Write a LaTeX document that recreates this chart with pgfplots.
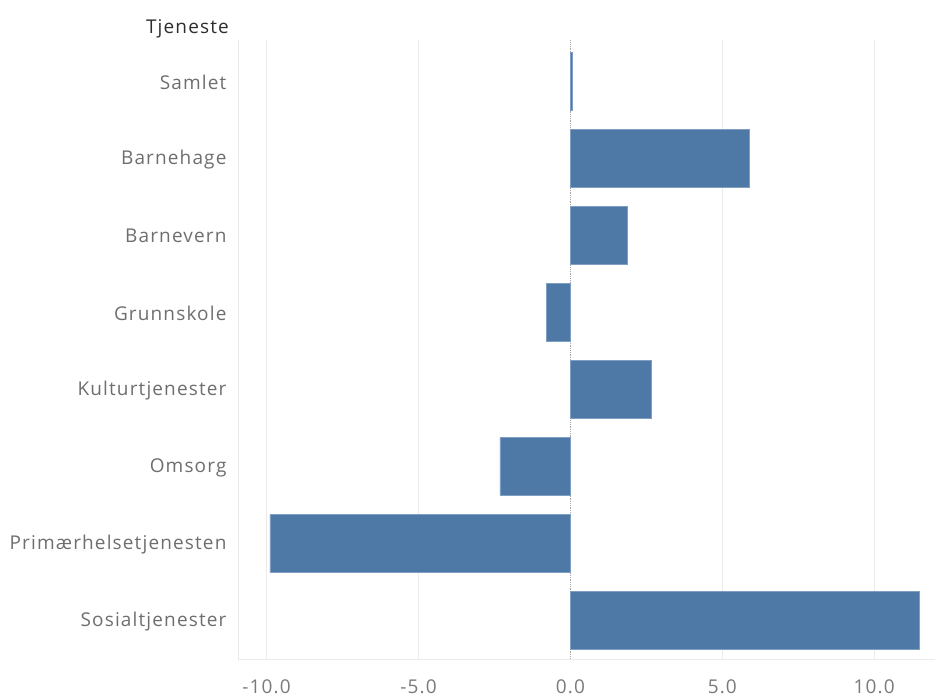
\documentclass[border=0pt]{standalone}
\usepackage{pgfplots}
\pgfplotsset{compat=1.18}
\usepackage{fontspec}
\setmainfont{Open Sans}[LetterSpace=6]

\definecolor{barblue}{HTML}{4E79A7}
\definecolor{bardraw}{HTML}{7F9FC2}
\definecolor{gridgray}{HTML}{EBEBEB}
\definecolor{labelgray}{HTML}{6E6E6E}
\definecolor{tickgray}{HTML}{7A7A7A}
\definecolor{headgray}{HTML}{2E2E2E}

\begin{document}
\begin{tikzpicture}[x=1pt,y=1pt]
\useasboundingbox (0,0) rectangle (939,696);
\begin{axis}[
  at={(238pt,37pt)}, anchor=south west,
  scale only axis,
  width=697pt, height=618.6pt,
  xbar, bar width=0.75,
  xmin=-10.94, xmax=12.0,
  ymin=-0.53, ymax=7.5,
  y dir=reverse,
  ytick={0,...,7},
  yticklabels={Samlet,Barnehage,Barnevern,Grunnskole,Kulturtjenester,Omsorg,Primærhelsetjenesten,Sosialtjenester},
  xtick={-10,-5,5,10},
  extra x ticks={0},
  extra x tick style={grid style={densely dotted, gray!70, line width=0.8pt}},
  xmajorgrids,
  grid style={gridgray, line width=0.8pt},
  axis x line*=bottom, axis y line*=left,
  axis line style={gridgray, line width=0.8pt, -},
  major tick length=0pt,
  tick style={draw=none},
  /pgf/number format/.cd, fixed, fixed zerofill, precision=1, assume math mode=true,
  /pgfplots/.cd,
  xticklabel style={font=\fontsize{19}{21}\selectfont, text=tickgray, anchor=base, yshift=-34pt},
  yticklabel style={font=\fontsize{19}{21}\selectfont, text=labelgray, anchor=east, xshift=-8pt, yshift=-1pt},
  clip=false,
]
\addplot[fill=barblue, draw=bardraw, line width=0.6pt]
  coordinates {(0.06,0) (5.89,1) (1.86,2) (-0.79,3) (2.65,4) (-2.32,5) (-9.89,6) (11.49,7)};
\end{axis}
\node[anchor=base east, text=headgray, font=\fontsize{19}{21}\selectfont, inner sep=0pt] at (229,662) {Tjeneste};
\end{tikzpicture}
\end{document}
